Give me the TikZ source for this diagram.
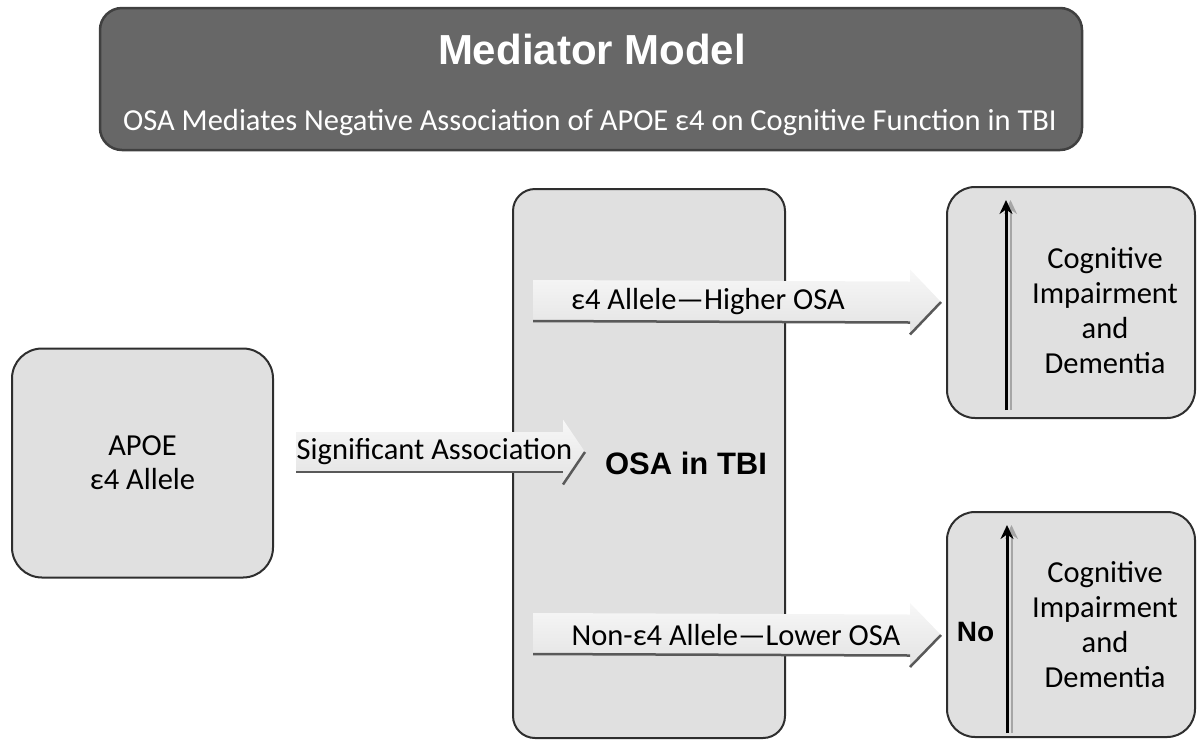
\documentclass[tikz,border=0pt]{standalone}
\usepackage{fontspec}
\setmainfont{Carlito}
\newfontfamily\arialfont{Liberation Sans}
\usepackage{tikz}
\usetikzlibrary{shapes.geometric, arrows.meta, calc}
\definecolor{boxgray}{HTML}{E0E0E0}
\definecolor{titlegray}{HTML}{676767}
\definecolor{edgegray}{HTML}{2E2E2E}
\tikzstyle{box} = [rectangle, 
rounded corners=28pt, 
draw=edgegray, 
line width=2pt,
fill=boxgray,
inner sep=0pt,
align=center,
font=\fontsize{30.5}{34}\selectfont]
\tikzstyle{titlebox} = [rectangle, rounded corners=22pt, draw=black!75, line width=2.5pt, fill=titlegray]
\tikzstyle{boxtext} = [align=center, font=\fontsize{30.5}{35}\selectfont]
\tikzstyle{arrowtext} = [font=\fontsize{30.5}{35}\selectfont]
\tikzstyle{arrowbody} = [top color=gray!6, bottom color=gray!22, draw=none]
\tikzstyle{arrowedge} = [draw=black!65, line width=2.5pt]
\tikzstyle{uparrow} = [line width=3pt, -{Stealth[length=14pt,width=13pt]}]
\tikzstyle{upshadow} = [line width=2pt, draw=gray!70, -{Stealth[length=14pt,width=13pt]}]

% grosse fleche : depart, pointe, demi-corps, demi-tete, longueur tete
\newcommand{\blocarrow}[5]{%
\path[arrowbody] ($(#1)+(0,-#3)$) -- ($(#2)+(-#5,-#3)$) -- ($(#2)+(-#5,-#4)$) -- (#2)
  -- ($(#2)+(-#5,#4)$) -- ($(#2)+(-#5,#3)$) -- ($(#1)+(0,#3)$) -- cycle;
\draw[arrowedge] ($(#1)+(0,#3)$) -- ($(#2)+(-#5,#3)$);
\draw[arrowedge] ($(#2)+(-#5,#4)$) -- (#2);
}

\begin{document}
\begin{tikzpicture}[x=1pt, y=-1pt]
\useasboundingbox (0,0) rectangle (1197,740);

% Titre
\node[titlebox, minimum width=982pt, minimum height=142pt] (titre) at (591,79) {};
\node[text=white, font=\arialfont\bfseries\fontsize{42}{42}\selectfont] (titretxt) at (592,49) {Mediator Model};
\node[text=white, font=\fontsize{30.5}{32}\selectfont] (soustitre) at (590,123) {OSA Mediates Negative Association of APOE ε4 on Cognitive Function in TBI};

% Boites
\node[box, rounded corners=30pt, minimum width=261pt, minimum height=229pt] (apoe) at (142.5,463) {APOE\\ε4 Allele};
\node[box, rounded corners=22pt, minimum width=272pt, minimum height=549pt] (osa) at (649,463.5) {};
\node[box, minimum width=248pt, minimum height=231pt] (haut) at (1071,302.5) {};
\node[box, minimum width=248pt, minimum height=225pt] (bas) at (1071,624.5) {};

% Grosses fleches
\coordinate (sigstart) at (296,452);
\coordinate (sigtip) at (585,452);
\coordinate (hautstart) at (533,300.5);
\coordinate (hauttip) at (941,302);
\coordinate (basstart) at (533,633.5);
\coordinate (bastip) at (941,635);
\blocarrow{sigstart}{sigtip}{20}{32.5}{22}
\blocarrow{hautstart}{hauttip}{20.5}{32.5}{31}
\blocarrow{basstart}{bastip}{20.5}{32}{31}

% Textes
\node[arrowtext] (sig) at (434.5,452) {Significant Association};
\node[arrowtext] (eps) at (708,302) {ε4 Allele—Higher OSA};
\node[arrowtext] (noneps) at (736,635) {Non-ε4 Allele—Lower OSA};
\node[font=\arialfont\bfseries\fontsize{31}{31}\selectfont] (osatxt) at (686,463) {OSA in TBI};
\node[boxtext] (cog1) at (1105,311) {Cognitive\\Impairment\\and\\Dementia};
\node[boxtext] (cog2) at (1105,625) {Cognitive\\Impairment\\and\\Dementia};
\node[font=\arialfont\bfseries\fontsize{28}{28}\selectfont] (non) at (975.5,632) {No};

% Fleches vers le haut
\coordinate (h1) at (1006,410);
\coordinate (h2) at (1006,200);
\coordinate (b1) at (1007,733);
\coordinate (b2) at (1007,525);
\draw[upshadow] ($(h1)+(4.5,0)$) -- ($(h2)+(4.5,0)$);
\draw[uparrow] (h1) -- (h2);
\draw[upshadow] ($(b1)+(4.5,0)$) -- ($(b2)+(4.5,0)$);
\draw[uparrow] (b1) -- (b2);

\end{tikzpicture}
\end{document}
